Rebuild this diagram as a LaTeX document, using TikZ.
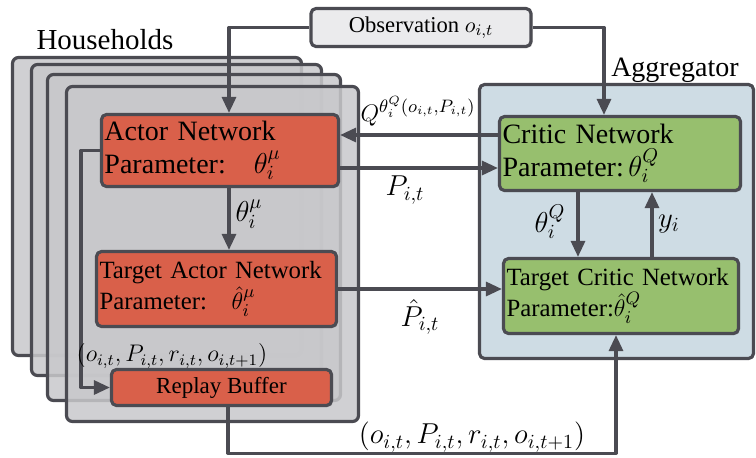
\documentclass[tikz,border=0pt]{standalone}
\usepackage{fontspec}
\setmainfont{Liberation Serif}
\usetikzlibrary{arrows.meta,shadows}
\definecolor{ln}{HTML}{4B4B52}
\definecolor{actorc}{HTML}{D9604A}
\definecolor{criticc}{HTML}{97BF6E}
\definecolor{aggc}{HTML}{CEDCE4}
\definecolor{hhc}{HTML}{C8C8CB}
\definecolor{obsc}{HTML}{EBEBED}
\begin{document}
\begin{tikzpicture}[x=0.5pt,y=-0.5pt,line join=round,
  box/.style={draw=ln,line width=1.6pt,rounded corners=2.5pt,inner sep=3pt},
  tbox/.style={box,inner sep=1.5pt,align=left},
  shad/.style={drop shadow={opacity=0.25,shadow xshift=0.8pt,shadow yshift=-0.8pt}},
  hh/.style={draw=ln,line width=1.6pt,fill=hhc,fill opacity=0.85,rounded corners=3pt},
  arr/.style={draw=ln,line width=1.6pt,-{Triangle[length=8pt,width=7pt]}},
  bigf/.style={font=\fontsize{14}{16.5}\selectfont},
  midf/.style={font=\fontsize{12.4}{15.5}\selectfont},
  lab/.style={font=\fontsize{14}{16}\selectfont,inner sep=1pt},
  slab/.style={font=\fontsize{12.5}{14}\selectfont,inner sep=1pt}]
\useasboundingbox (0,0) rectangle (756,457);
% households stack
\draw[hh] (12.5,57.5) rectangle (301.5,355.5);
\draw[hh] (31.5,64.5) rectangle (321.5,375.5);
\draw[hh] (47.5,74.5) rectangle (340.5,400.5);
\draw[hh] (66.5,86.5) rectangle (358.5,421.5);
\node[font=\fontsize{14.5}{16}\selectfont] (hhlabel) at (105,40) {Households};
% aggregator
\node[box,fill=aggc,minimum width=137pt,minimum height=137pt] (agg) at (616.5,221.5) {};
\node[font=\fontsize{14}{16}\selectfont] (agglabel) at (675,70) {Aggregator};
% boxes
\node[box,shad,fill=obsc,minimum width=110pt,minimum height=19pt,font=\fontsize{11.3}{13}\selectfont] (obs) at (421,27.5) {Observation $o_{i,t}$};
\node[tbox,shad,fill=actorc,minimum width=118.5pt,minimum height=36pt,text width=115.5pt,bigf] (actor) at (220,150.5) {Actor Network\\Parameter:\quad$\theta_i^\mu$};
\node[tbox,shad,fill=actorc,minimum width=120pt,minimum height=37.5pt,text width=117pt,midf] (tactor) at (216.5,289) {Target Actor Network\\Parameter:\quad$\hat\theta_i^\mu$};
\node[box,shad,fill=actorc,minimum width=110pt,minimum height=18pt,font=\fontsize{11.5}{13}\selectfont] (replay) at (221.5,387.5) {Replay Buffer};
\node[tbox,shad,fill=criticc,minimum width=120.5pt,minimum height=37pt,text width=117.5pt,bigf] (critic) at (620,153.5) {Critic Network\\Parameter:\,$\theta_i^Q$};
\node[tbox,shad,fill=criticc,minimum width=117.5pt,minimum height=37.5pt,text width=114.5pt,midf] (tcritic) at (621,296) {\mbox{Target Critic Network}\\Parameter:$\hat\theta_i^Q$};
% connectors
\draw[arr] (obs.west) -| ([xshift=4.5pt]actor.north);
\draw[arr] (obs.east) -| ([xshift=-8pt]critic.north);
\draw[arr] ([yshift=9.25pt]critic.west) -- ([yshift=9.25pt]critic.west -| actor.east);
\draw[arr] ([yshift=-8.75pt]actor.east) -- ([yshift=-8.75pt]actor.east -| critic.west);
\draw[arr] ([xshift=4.5pt]actor.south) -- ([xshift=4.5pt]actor.south |- tactor.north);
\draw[arr] (tactor.east) -- (tactor.east -| tcritic.west);
\draw[arr] ([xshift=-21pt]critic.south) -- ([xshift=-21pt]critic.south |- tcritic.north);
\draw[arr] ([xshift=15.5pt]tcritic.north) -- ([xshift=15.5pt]tcritic.north |- critic.south);
\draw[arr] (actor.west) -- ++(-9.5pt,0) |- (replay.west);
\draw[arr] ([xshift=3.25pt]replay.south) -- ++(0,-23pt) -| ([xshift=-2.5pt]tcritic.south);
% labels
\node[slab] (qlab) at (418,111) {$Q^{\theta_i^Q(o_{i,t},P_{i,t})}$};
\node[lab] (plab) at (405,190) {$P_{i,t}$};
\node[lab] (thmu) at (249,214) {$\theta_i^\mu$};
\node[lab] (phat) at (420,317) {$\hat P_{i,t}$};
\node[lab] (thq) at (550,222) {$\theta_i^Q$};
\node[lab] (ylab) at (669,224) {$y_i$};
\node[font=\fontsize{11.8}{14}\selectfont,inner sep=1pt] (tup1) at (172,356) {$(o_{i,t},P_{i,t},r_{i,t},o_{i,t+1})$};
\node[font=\fontsize{14.5}{16}\selectfont,inner sep=1pt] (tup2) at (472,437) {$(o_{i,t},P_{i,t},r_{i,t},o_{i,t+1})$};
\end{tikzpicture}
\end{document}
